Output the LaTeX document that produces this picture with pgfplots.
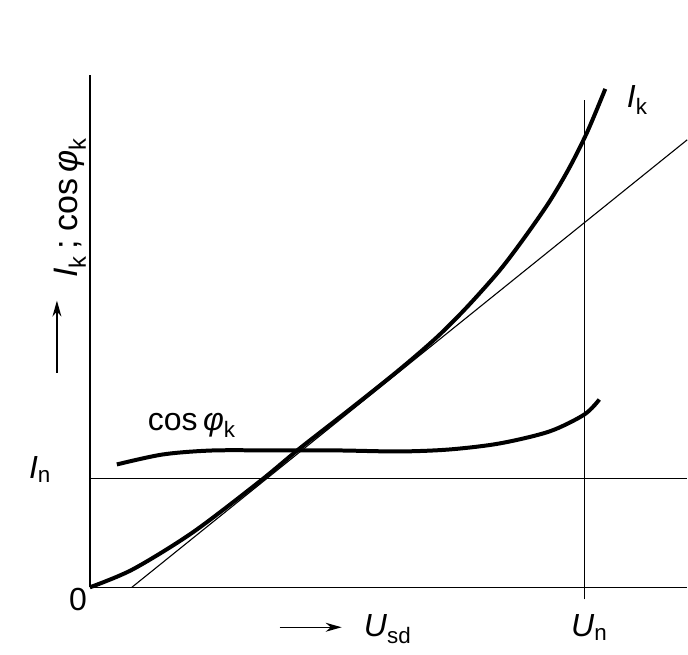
\documentclass[border=0pt]{standalone}
\usepackage{fontspec}
\setmainfont{Liberation Sans}
\usepackage{pgfplots}
\pgfplotsset{compat=1.18}
\usetikzlibrary{arrows.meta}
\newcommand\sub[1]{\textsubscript{\upshape #1}}
\newcommand\phik{\textit{φ}\sub{k}}
\begin{document}
\fontsize{32}{38}\selectfont
\begin{tikzpicture}
\begin{axis}[x=1pt,y=1pt,xmin=-90,xmax=598,ymin=-67,ymax=588,
  hide axis,clip=false,scale only axis]
\path (axis cs:-90,-67) rectangle (axis cs:598,588);
% axes and guide lines
\addplot[black,line width=1.6pt] coordinates {(0,0) (598,0)};
\addplot[black,line width=1.6pt] coordinates {(0,0) (0,513)};
\addplot[black,line width=1.3pt] coordinates {(0,109) (598,109)};
\addplot[black,line width=1.3pt] coordinates {(495,-12) (495,488)};
\addplot[black,line width=1.1pt] coordinates {(42,0) (598,448)};
% I_k curve
\addplot[black,line width=4pt,smooth] coordinates {
(0,0) (43,18) (103,55) (170,106) (210,139) (260,178) (310,218)
(347,250) (377,280) (410,317) (435,350) (460,386) (480,420) (498,456) (516,499)};
% cos phi_k curve
\addplot[black,line width=4pt,smooth] coordinates {
(27,123) (73,133) (123,137) (190,137) (250,137) (310,136) (360,138)
(410,144) (460,156) (495,173) (510,188)};
% labels
\node[rotate=90,font=\fontsize{34}{40}\selectfont] at (axis cs:-20,380) {\textit{I}\sub{k}\,; cos\,\phik};
\draw[-{Stealth[length=16pt,width=9pt]},line width=1.4pt] (axis cs:-33,215) -- (axis cs:-33,287);
\node at (axis cs:-50,118) {\textit{I}\sub{n}};
\node at (axis cs:-12,-12) {0};
\draw[-{Stealth[length=16pt,width=9pt]},line width=1.4pt] (axis cs:190,-40) -- (axis cs:252,-40);
\node at (axis cs:298,-42) {\textit{U}\sub{sd}};
\node at (axis cs:500,-40) {\textit{U}\sub{n}};
\node at (axis cs:548,488) {\textit{I}\sub{k}};
\node at (axis cs:102,162) {cos\,\phik};
\end{axis}
\end{tikzpicture}
\end{document}
